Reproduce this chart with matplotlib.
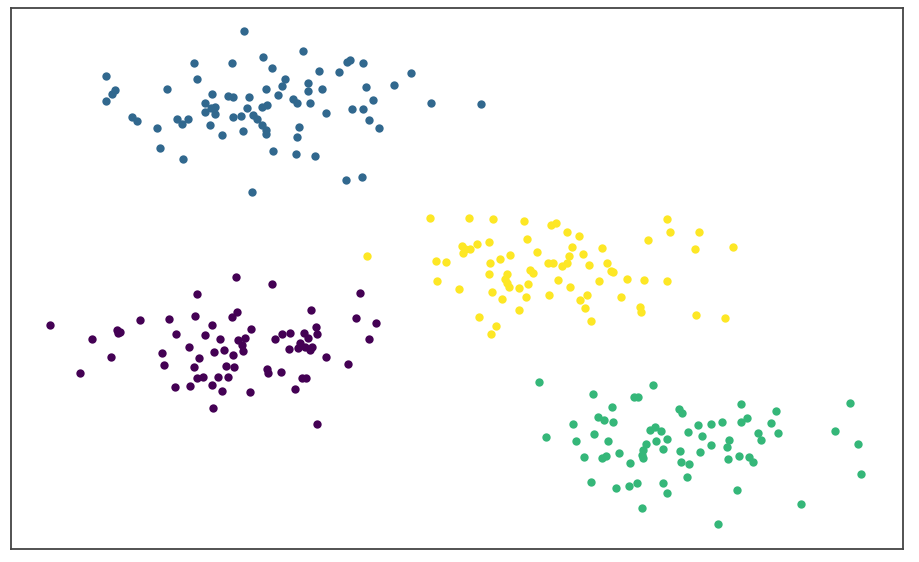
import matplotlib
matplotlib.use("Agg")
import matplotlib.pyplot as plt

# 点坐标按参考图像素读出（x 向右，y 向下）
purple_x = [50, 80, 92, 111, 117, 120, 118, 140, 169, 176, 162, 164, 175, 197, 195, 212,
            205, 189, 220, 199, 214, 224, 233, 194, 197, 203, 190, 218, 228, 226, 234, 212,
            222, 213, 236, 237, 232, 238, 272, 360, 311, 356, 376, 251, 282, 290, 275, 304,
            316, 317, 308, 300, 312, 305, 289, 298, 310, 369, 245, 242, 243, 326, 348, 267,
            268, 281, 302, 306, 295, 250, 317]
purple_y = [325, 373, 339, 357, 330, 332, 333, 320, 319, 334, 353, 365, 387, 294, 316, 325,
            335, 347, 339, 358, 352, 350, 355, 367, 378, 377, 386, 377, 377, 366, 367, 385,
            391, 408, 277, 312, 317, 340, 284, 293, 310, 318, 323, 329, 334, 333, 339, 333,
            327, 334, 338, 343, 347, 347, 349, 348, 350, 339, 338, 345, 351, 357, 364, 369,
            373, 372, 378, 378, 389, 392, 424]

blue_x = [244, 263, 194, 232, 272, 106, 197, 285, 282, 115, 167, 266, 112, 212, 106, 228,
          233, 249, 278, 293, 205, 215, 211, 205, 215, 247, 262, 267, 132, 137, 177, 188,
          182, 233, 241, 253, 257, 262, 266, 266, 210, 157, 243, 222, 299, 297, 160, 273,
          296, 183, 252, 303, 350, 347, 363, 319, 339, 411, 308, 308, 322, 366, 394, 297,
          310, 373, 431, 481, 326, 352, 363, 369, 379, 315, 346, 362]
blue_y = [31, 57, 63, 63, 68, 76, 79, 79, 86, 90, 89, 89, 94, 94, 101, 96,
          97, 97, 95, 99, 103, 107, 108, 112, 114, 108, 107, 105, 117, 121, 119, 119,
          124, 117, 116, 115, 119, 125, 130, 134, 125, 128, 131, 135, 127, 137, 148, 151,
          154, 159, 192, 51, 60, 62, 63, 71, 72, 73, 83, 91, 89, 87, 85, 103,
          103, 100, 103, 104, 113, 109, 109, 120, 128, 156, 180, 177]

green_x = [539, 653, 593, 634, 638, 612, 679, 682, 598, 604, 613, 573, 698, 711, 650, 655,
           661, 688, 546, 594, 702, 576, 608, 656, 667, 646, 711, 643, 663, 680, 700, 619,
           642, 643, 584, 602, 606, 630, 681, 689, 687, 591, 616, 629, 637, 663, 667, 642,
           718, 741, 776, 850, 722, 741, 747, 771, 758, 778, 761, 835, 729, 727, 858, 739,
           749, 753, 728, 861, 737, 801]
green_y = [382, 385, 394, 397, 397, 407, 409, 413, 417, 420, 422, 424, 425, 424, 430, 427,
           431, 432, 437, 434, 436, 441, 441, 441, 439, 444, 445, 450, 449, 451, 452, 453,
           455, 458, 457, 458, 456, 463, 462, 464, 477, 482, 488, 486, 483, 483, 493, 508,
           524, 404, 411, 403, 422, 422, 418, 423, 433, 433, 440, 431, 440, 447, 444, 456,
           457, 462, 459, 474, 490, 504]

yellow_x = [367, 430, 469, 493, 524, 551, 556, 527, 489, 477, 462, 465, 470, 463, 537, 510,
            500, 490, 436, 446, 548, 553, 530, 533, 489, 507, 505, 507, 509, 528, 519, 437,
            459, 492, 549, 558, 526, 502, 519, 479, 496, 491, 667, 567, 579, 670, 699, 648,
            572, 602, 695, 733, 569, 583, 562, 567, 589, 607, 611, 613, 570, 599, 627, 644,
            667, 587, 580, 585, 621, 640, 641, 591, 696, 725]
yellow_y = [256, 218, 218, 219, 221, 225, 223, 239, 242, 244, 246, 249, 249, 253, 252, 255,
            259, 263, 261, 262, 263, 263, 270, 273, 274, 274, 279, 283, 287, 284, 288, 281,
            289, 292, 295, 280, 297, 299, 310, 317, 326, 334, 219, 232, 236, 232, 232, 240,
            247, 248, 249, 247, 256, 254, 266, 263, 265, 263, 271, 272, 287, 281, 279, 280,
            281, 295, 300, 308, 297, 307, 312, 321, 315, 318]

clusters = [
    (purple_x, purple_y, "#440154"),
    (blue_x, blue_y, "#31688e"),
    (green_x, green_y, "#35b779"),
    (yellow_x, yellow_y, "#fde725"),
]

W, H = 919, 562
fig = plt.figure(figsize=(W / 100, H / 100), dpi=100)
ax = fig.add_axes([11 / W, 1 - 549 / H, (903 - 11) / W, (549 - 8) / H])

for xs, ys, col in clusters:
    ax.scatter(xs, ys, s=36, c=col, linewidths=0)

ax.set_xlim(11, 903)
ax.set_ylim(549, 8)
ax.set_xticks([])
ax.set_yticks([])
for sp in ax.spines.values():
    sp.set_color("#444444")
    sp.set_linewidth(1.3)

fig.savefig("out.png", dpi=100)
